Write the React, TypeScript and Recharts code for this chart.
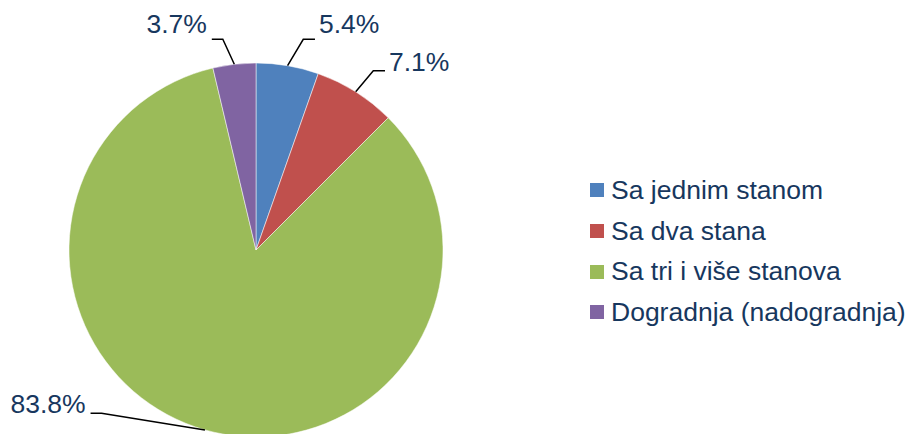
import { PieChart, Pie, Cell, Legend } from "recharts";

const CATEGORIES = ["Sa jednim stanom", "Sa dva stana", "Sa tri i više stanova", "Dogradnja (nadogradnja)"];
const SHARES = [5.4, 7.1, 83.8, 3.7];
const COLORS = ["#4F81BD", "#C0504D", "#9BBB59", "#8064A2"];

// leader line: elbow offset from slice edge, horizontal run, text baseline shift
const LABEL_LAYOUT = [
    { dx: 15.7, dy: -26.4, run: 11.7, textDy: -6 },
    { dx: 17.6, dy: -21.1, run: 11.7, textDy: 0 },
    { dx: -103.4, dy: -16.6, run: -11, textDy: 0 },
    { dx: -11.5, dy: -25, run: -11, textDy: -6 },
];

const TEXT_COLOR = "#17375E";
const FONT = "'Liberation Sans', Arial, sans-serif";
const RADIAN = Math.PI / 180;

const data = CATEGORIES.map((name, i) => ({ name, value: SHARES[i] }));

function renderLabel(props: any) {
    const { cx, cy, midAngle, outerRadius, index, value } = props;
    const layout = LABEL_LAYOUT[index];
    const sx = cx + outerRadius * Math.cos(-midAngle * RADIAN);
    const sy = cy + outerRadius * Math.sin(-midAngle * RADIAN);
    const ex = sx + layout.dx;
    const ey = sy + layout.dy;
    const tx = ex + layout.run;
    const right = layout.run > 0;
    return (
        <g key={`label-${index}`}>
            <polyline
                points={`${sx},${sy} ${ex},${ey} ${tx},${ey}`}
                fill="none"
                stroke="#000"
                strokeWidth={1.5}
            />
            <text
                x={tx + (right ? 4 : -5)}
                y={ey + layout.textDy}
                textAnchor={right ? "start" : "end"}
                fill={TEXT_COLOR}
                fontSize={26.5}
                fontFamily={FONT}
            >
                {`${Number(value).toFixed(1)}%`}
            </text>
        </g>
    );
}

function renderLegend(props: any) {
    const payload = [...(props.payload ?? [])].sort(
        (a: any, b: any) => CATEGORIES.indexOf(a.value) - CATEGORIES.indexOf(b.value)
    );
    return (
        <ul style={{ listStyle: "none", margin: 0, padding: 0 }}>
            {payload.map((entry: any, i: number) => (
                <li
                    key={`legend-${i}`}
                    style={{ display: "flex", alignItems: "center", height: 40.7, whiteSpace: "nowrap" }}
                >
                    <span
                        style={{
                            display: "inline-block",
                            width: 14,
                            height: 14,
                            background: entry.color,
                            marginRight: 7,
                        }}
                    />
                    <span style={{ fontSize: 26.5, color: TEXT_COLOR, fontFamily: FONT }}>{entry.value}</span>
                </li>
            ))}
        </ul>
    );
}

export default function App() {
    return (
        <div style={{ position: "absolute", left: 0, top: 0, fontFamily: FONT, background: "#fff" }}>
            <PieChart width={907} height={434} margin={{ top: 0, right: 0, bottom: 0, left: 0 }}>
                <Pie
                    data={data}
                    dataKey="value"
                    nameKey="name"
                    cx={256}
                    cy={250}
                    outerRadius={187}
                    startAngle={90}
                    endAngle={-270}
                    stroke="#ffffff"
                    strokeWidth={0.5}
                    label={renderLabel}
                    labelLine={false}
                    isAnimationActive={false}
                >
                    {data.map((entry, i) => (
                        <Cell key={entry.name} fill={COLORS[i]} />
                    ))}
                </Pie>
                <Legend
                    layout="vertical"
                    align="right"
                    verticalAlign="top"
                    itemSorter={null}
                    content={renderLegend}
                    wrapperStyle={{ left: 590, top: 170, right: "auto", width: "auto" }}
                />
            </PieChart>
        </div>
    );
}
